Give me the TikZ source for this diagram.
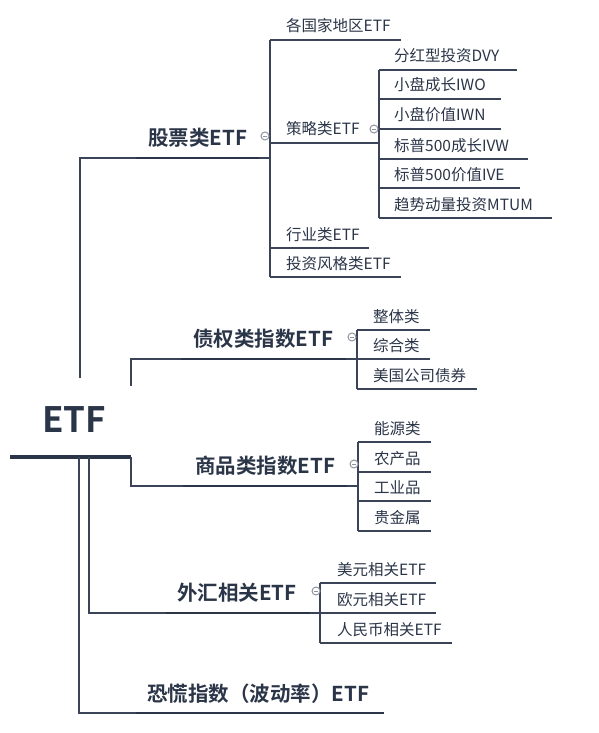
\documentclass[tikz,border=0pt]{standalone}
\usepackage{fontspec}
\setmainfont{Noto Sans CJK SC}[BoldFont={Noto Sans CJK SC Bold}]
\definecolor{ink}{HTML}{2B3548}
\definecolor{ln}{HTML}{3A4358}
\definecolor{gr}{HTML}{8E939F}
\begin{document}
\begin{tikzpicture}[x=1pt,y=-1pt,
  leaf/.style={anchor=base west,inner sep=0pt,text=ink,font=\fontsize{15.5}{16}\selectfont},
  head/.style={anchor=base west,inner sep=0pt,text=ink,font=\fontsize{20.5}{22}\selectfont\bfseries},
  rootnode/.style={anchor=base west,inner sep=0pt,text=ink,font=\fontsize{35}{38}\selectfont\bfseries},
  thinln/.style={draw=ln,line width=1.1pt},
  thickln/.style={draw=ink,line width=2.8pt},
  fold/.style={circle,draw=gr,fill=white,line width=1pt,minimum size=8pt,inner sep=0pt,
    path picture={\draw[gr,line width=0.9pt] ([xshift=-2pt]path picture bounding box.center) -- ([xshift=2pt]path picture bounding box.center);}}
]
\useasboundingbox (0,0) rectangle (599,733);
% root
\node[rootnode] (root) at (42,432) {ETF};
\coordinate (rl) at (10,457); \coordinate (rr) at (131,457);
\draw[draw=ink,line width=4pt] (rl) -- (rr);

% level 1 headings
\node[head] (stock) at (148,145) {股票类ETF};
\node[head] (bond) at (193,346) {债权类指数ETF};
\node[head] (comm) at (195,473) {商品类指数ETF};
\node[head] (fx) at (177,600) {外汇相关ETF};
\node[head] (vix) at (147,701) {恐慌指数（波动率）ETF};

% root connectors
\coordinate (s0) at (80,378); \coordinate (s1) at (80,158); \coordinate (s2) at (270,158);
\draw[thinln] (s0) -- (s1) -- (s2);
\coordinate (b0) at (131,386); \coordinate (b1) at (131,359); \coordinate (b2) at (357,359);
\draw[thinln] (b0) -- (b1) -- (b2);
\coordinate (c0) at (131,457); \coordinate (c1) at (131,486); \coordinate (c2) at (358,486);
\draw[thinln] (c0) -- (c1) -- (c2);
\coordinate (f0) at (89,457); \coordinate (f1) at (89,613); \coordinate (f2) at (320,613);
\draw[thinln] (f0) -- (f1) -- (f2);
\coordinate (v0) at (79,457); \coordinate (v1) at (79,713); \coordinate (v2) at (136,713);
\draw[thinln] (v0) -- (v1) -- (v2);

% heading underlines
\coordinate (su1) at (136,158); \coordinate (su2) at (259,158);
\draw[thickln] (su1) -- (su2);
\coordinate (bu1) at (181,359); \coordinate (bu2) at (346,359);
\draw[thickln] (bu1) -- (bu2);
\coordinate (cu1) at (183,486); \coordinate (cu2) at (347,486);
\draw[thickln] (cu1) -- (cu2);
\coordinate (fu1) at (166,613); \coordinate (fu2) at (310,613);
\draw[thickln] (fu1) -- (fu2);
\coordinate (vu1) at (136,713); \coordinate (vu2) at (384,713);
\draw[thickln] (vu1) -- (vu2);

% stock children
\coordinate (sp1) at (270,40); \coordinate (sp2) at (270,277);
\draw[thinln] (sp1) -- (sp2);
\foreach \nm/\txt/\yy/\xe in {ga/各国家地区ETF/40/401, gb/策略类ETF/143/379, gc/行业类ETF/248/369, gd/投资风格类ETF/277/401}{
  \node[leaf] (\nm) at (286,\yy-8) {\txt};
  \coordinate (\nm-s) at (270,\yy); \coordinate (\nm-e) at (\xe,\yy);
  \draw[thinln] (\nm-s) -- (\nm-e);
}

% strategy children
\coordinate (tp1) at (379,70); \coordinate (tp2) at (379,218);
\draw[thinln] (tp1) -- (tp2);
\foreach \nm/\txt/\yy/\xe in {ta/分红型投资DVY/70/517, tb/小盘成长IWO/99/501, tc/小盘价值IWN/129/501, td/标普500成长IVW/159/528, te/标普500价值IVE/188/520, tf/趋势动量投资MTUM/218/552}{
  \node[leaf] (\nm) at (394,\yy-8) {\txt};
  \coordinate (\nm-s) at (379,\yy); \coordinate (\nm-e) at (\xe,\yy);
  \draw[thinln] (\nm-s) -- (\nm-e);
}

% bond children
\coordinate (bp1) at (357,330); \coordinate (bp2) at (357,389);
\draw[thinln] (bp1) -- (bp2);
\foreach \nm/\txt/\yy/\xe in {ba/整体类/330/430, bb/综合类/359/430, bc/美国公司债券/389/477}{
  \node[leaf] (\nm) at (373,\yy-8) {\txt};
  \coordinate (\nm-s) at (357,\yy); \coordinate (\nm-e) at (\xe,\yy);
  \draw[thinln] (\nm-s) -- (\nm-e);
}

% commodity children
\coordinate (cp1) at (358,442); \coordinate (cp2) at (358,531);
\draw[thinln] (cp1) -- (cp2);
\foreach \nm/\txt/\yy/\xe in {ca/能源类/442/431, cb/农产品/472/431, cc/工业品/501/431, cd/贵金属/531/431}{
  \node[leaf] (\nm) at (374,\yy-8) {\txt};
  \coordinate (\nm-s) at (358,\yy); \coordinate (\nm-e) at (\xe,\yy);
  \draw[thinln] (\nm-s) -- (\nm-e);
}

% fx children
\coordinate (fp1) at (320,583); \coordinate (fp2) at (320,643);
\draw[thinln] (fp1) -- (fp2);
\foreach \nm/\txt/\yy/\xe in {fa/美元相关ETF/583/436, fb/欧元相关ETF/613/436, fc/人民币相关ETF/643/452}{
  \node[leaf] (\nm) at (337,\yy-8) {\txt};
  \coordinate (\nm-s) at (320,\yy); \coordinate (\nm-e) at (\xe,\yy);
  \draw[thinln] (\nm-s) -- (\nm-e);
}

% fold markers
\node[fold] (k1) at (265,136) {};
\node[fold] (k2) at (374,129) {};
\node[fold] (k3) at (352,337) {};
\node[fold] (k4) at (354,464) {};
\node[fold] (k5) at (316,591) {};
\end{tikzpicture}
\end{document}
